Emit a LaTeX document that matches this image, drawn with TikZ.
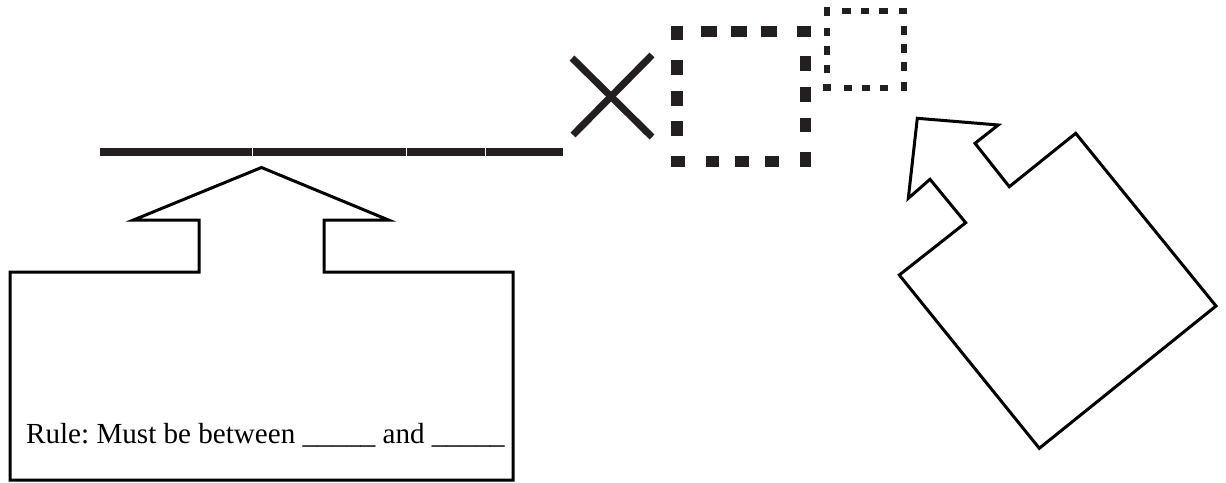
\documentclass[tikz,border=0pt]{standalone}
\usepackage{fontspec}
\setmainfont{Liberation Serif}
\definecolor{ink}{RGB}{35,31,32}
\begin{document}
\begin{tikzpicture}[x=1pt,y=-1pt,
  outline/.style={draw=black,line width=3pt,line join=miter,fill=white},
  rulebar/.style={draw=ink,line width=7.5pt},
  crossbar/.style={draw=ink,line width=7pt},
  bit/.style={fill=ink},
  ruletext/.style={anchor=base west,inner sep=0pt,font=\fontsize{29.1}{33}\selectfont}]
\useasboundingbox (0,0) rectangle (1226,482);
% segmented answer line
\draw[rulebar] (100,152) -- (252.3,152);
\draw[rulebar] (253.3,152) -- (406.3,152);
\draw[rulebar] (407.3,152) -- (484.6,152);
\draw[rulebar] (485.6,152) -- (563,152);
% cross
\draw[crossbar] (572,58) -- (652,137);
\draw[crossbar] (652,55) -- (573,135);
% big dotted box
\foreach \a/\b in {670.5/682.5, 700.5/716.5, 730.5/746.5, 760.5/776.5, 796.5/810.5}
  \fill[bit] (\a,26) rectangle (\b,37);
\fill[bit] (670.5,26) rectangle (682.5,40);
\foreach \a/\b in {59.5/74.5, 90.5/105.5, 120.5/135.5}
  \fill[bit] (670.5,\a) rectangle (682.5,\b);
\foreach \a/\b in {56/71, 87/101.5, 118/132, 152/167}
  \fill[bit] (799.5,\a) rectangle (810.5,\b);
\foreach \a/\b in {670.5/684.5, 705.5/719, 734.5/749, 764.5/779}
  \fill[bit] (\a,155.5) rectangle (\b,167);
% small dotted box
\foreach \a/\b in {842/851, 860.5/869, 878.5/887.5, 898.5/907}
  \fill[bit] (\a,7.8) rectangle (\b,13.8);
\fill[bit] (823.8,7.2) rectangle (829.8,15.5);
\foreach \a/\b in {27.8/36.3, 46.3/54.7, 64.5/73}
  \fill[bit] (823.8,\a) rectangle (829.8,\b);
\fill[bit] (823,84) rectangle (831,91.3);
\foreach \a/\b in {25.5/34.7, 43.8/53, 62.2/71.3, 82.2/91.3}
  \fill[bit] (901.3,\a) rectangle (906.5,\b);
\foreach \a/\b in {843.8/852, 861.5/869.7, 879.5/888}
  \fill[bit] (\a,84.5) rectangle (\b,91.3);
% left callout
\draw[outline] (261.5,167.5) -- (388.5,220) -- (324,220) -- (324,272) -- (513,272)
  -- (513,480) -- (10,480) -- (10,272) -- (199,272) -- (199,220) -- (133.5,220) -- cycle;
\node[ruletext] (rule) at (26,443.3) {\frenchspacing Rule: Must be between \_\_\_\_\_ and \_\_\_\_\_};
% right callout
\draw[outline] (917.3,118.3) -- (998.3,125) -- (975,143.3) -- (1009.3,186.7) -- (1075.7,133.3)
  -- (1216,306) -- (1039.3,448.3) -- (899.3,275) -- (965.7,222.7) -- (930,179.3)
  -- (908.3,198.3) -- cycle;
\end{tikzpicture}
\end{document}
